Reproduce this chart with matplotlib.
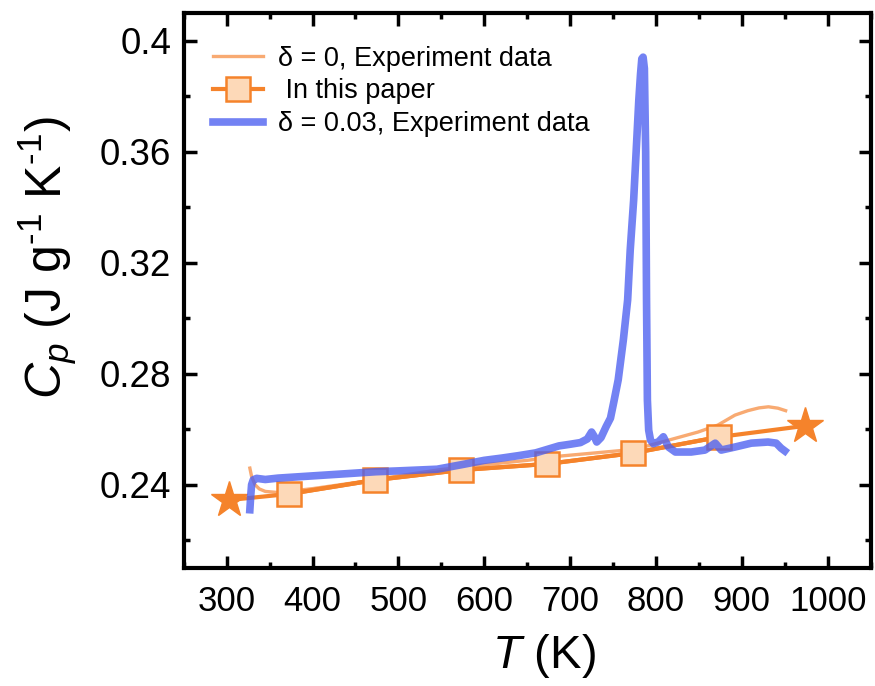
import matplotlib
matplotlib.use("Agg")
import matplotlib.pyplot as plt
from matplotlib.ticker import MultipleLocator

plt.rcParams['font.family'] = ['Liberation Sans', 'DejaVu Sans']
plt.rcParams['mathtext.fontset'] = 'custom'
plt.rcParams['mathtext.rm'] = 'Liberation Sans'
plt.rcParams['mathtext.it'] = 'Liberation Sans:italic'

# delta = 0 experiment
T_exp0 = [327, 329, 333, 338, 345, 360, 400, 450, 500, 550, 600, 650, 687,
          730, 765, 790, 815, 849, 872, 892, 907, 920, 931, 942, 951]
cp_exp0 = [0.2460, 0.2430, 0.2400, 0.2385, 0.2376, 0.2372, 0.2386, 0.2408, 0.2432,
           0.2455, 0.2472, 0.2488, 0.2503, 0.2515, 0.2525, 0.2540, 0.2561, 0.2590,
           0.2615, 0.2651, 0.2667, 0.2677, 0.2681, 0.2676, 0.2667]

# model (this paper)
T_model = [373, 473, 573, 673, 773, 873]
cp_model = [0.2367, 0.2417, 0.2453, 0.2475, 0.2514, 0.2572]
T_star = [303, 973]
cp_star = [0.2345, 0.2612]

# delta = 0.03 experiment
T_exp3 = [327, 328, 329, 331, 335, 345, 360, 380, 400, 420, 440, 474, 500, 545,
          573, 600, 620, 640, 660, 687, 700, 712, 720, 725, 728, 731, 736, 742,
          747, 751, 756, 762, 767, 770, 774, 777, 780, 782, 783.5, 785, 786.5,
          788, 789, 790, 791.5, 793.6, 797, 803, 808.6, 814.5, 822.6, 841, 857,
          869, 876, 892, 911, 930.6, 940, 945.7, 950]
cp_exp3 = [0.2310, 0.2360, 0.2400, 0.2418, 0.2423, 0.2419, 0.2424, 0.2428, 0.2432,
           0.2436, 0.2440, 0.2447, 0.2450, 0.2456, 0.2472, 0.2488, 0.2496, 0.2505,
           0.2515, 0.2540, 0.2546, 0.2552, 0.2565, 0.2590, 0.2575, 0.2554, 0.2570,
           0.2610, 0.2640, 0.2700, 0.2778, 0.2922, 0.3066, 0.3246, 0.3426, 0.3606,
           0.3786, 0.3880, 0.3935, 0.3941, 0.3900, 0.3600, 0.3066, 0.2705, 0.2597,
           0.2561, 0.2548, 0.2555, 0.2573, 0.2536, 0.2518, 0.2518, 0.2525, 0.2550,
           0.2525, 0.2536, 0.2550, 0.2554, 0.2550, 0.2532, 0.2522]

c_orange = '#f5832b'
c_light = '#f8aa72'
c_face = '#fdd9b8'
c_blue = '#4c5ff0'

fig, ax = plt.subplots(figsize=(8.75, 6.86), dpi=100)
fig.subplots_adjust(left=0.210, right=0.995, top=0.981, bottom=0.172)

ax.plot(T_exp0, cp_exp0, color=c_light, lw=2.4, label='δ = 0, Experiment data', zorder=2)
ax.plot(T_star[:1] + T_model + T_star[1:], cp_star[:1] + cp_model + cp_star[1:],
        color=c_orange, lw=3, zorder=3)
ax.plot(T_model, cp_model, color=c_orange, lw=3, marker='s', ms=17, mfc=c_face,
        mec=c_orange, mew=1.8, label=' In this paper', zorder=4)
ax.plot(T_star, cp_star, ls='none', marker='*', ms=27, color=c_orange, zorder=4)
ax.plot(T_exp3, cp_exp3, color=c_blue, lw=5.5, alpha=0.78,
        label='δ = 0.03, Experiment data', zorder=5)

ax.set_xlim(250, 1050)
ax.set_ylim(0.21, 0.41)
ax.xaxis.set_minor_locator(MultipleLocator(50))
ax.yaxis.set_minor_locator(MultipleLocator(0.02))
ax.set_yticks([0.24, 0.28, 0.32, 0.36, 0.4])
ax.set_yticklabels(['0.24', '0.28', '0.32', '0.36', '0.4'])
ax.set_xticks(range(300, 1001, 100))

ax.tick_params(which='both', direction='in', top=True, right=True, width=2.5)
ax.tick_params(which='major', length=9)
ax.tick_params(axis='x', which='major', pad=12, labelsize=25)
ax.tick_params(axis='y', which='major', pad=9, labelsize=26.5)
ax.tick_params(which='minor', length=4.5)
for s in ax.spines.values():
    s.set_linewidth(3)

ax.set_xlabel(r'$T$ (K)', fontsize=34)
ax.xaxis.set_label_coords(0.525, -0.115)
ax.set_ylabel(r'$C_p$ (J g$^{\text{-}1}$ K$^{\text{-}1}$)', fontsize=36)
ax.yaxis.set_label_coords(-0.152, 0.56)

ax.legend(loc='upper left', frameon=False, fontsize=19.5, handlelength=1.85,
          handletextpad=0.55, labelspacing=0.25, borderaxespad=0.8,
          bbox_to_anchor=(-0.005, 1.0))

plt.savefig('out.png', dpi=100)
